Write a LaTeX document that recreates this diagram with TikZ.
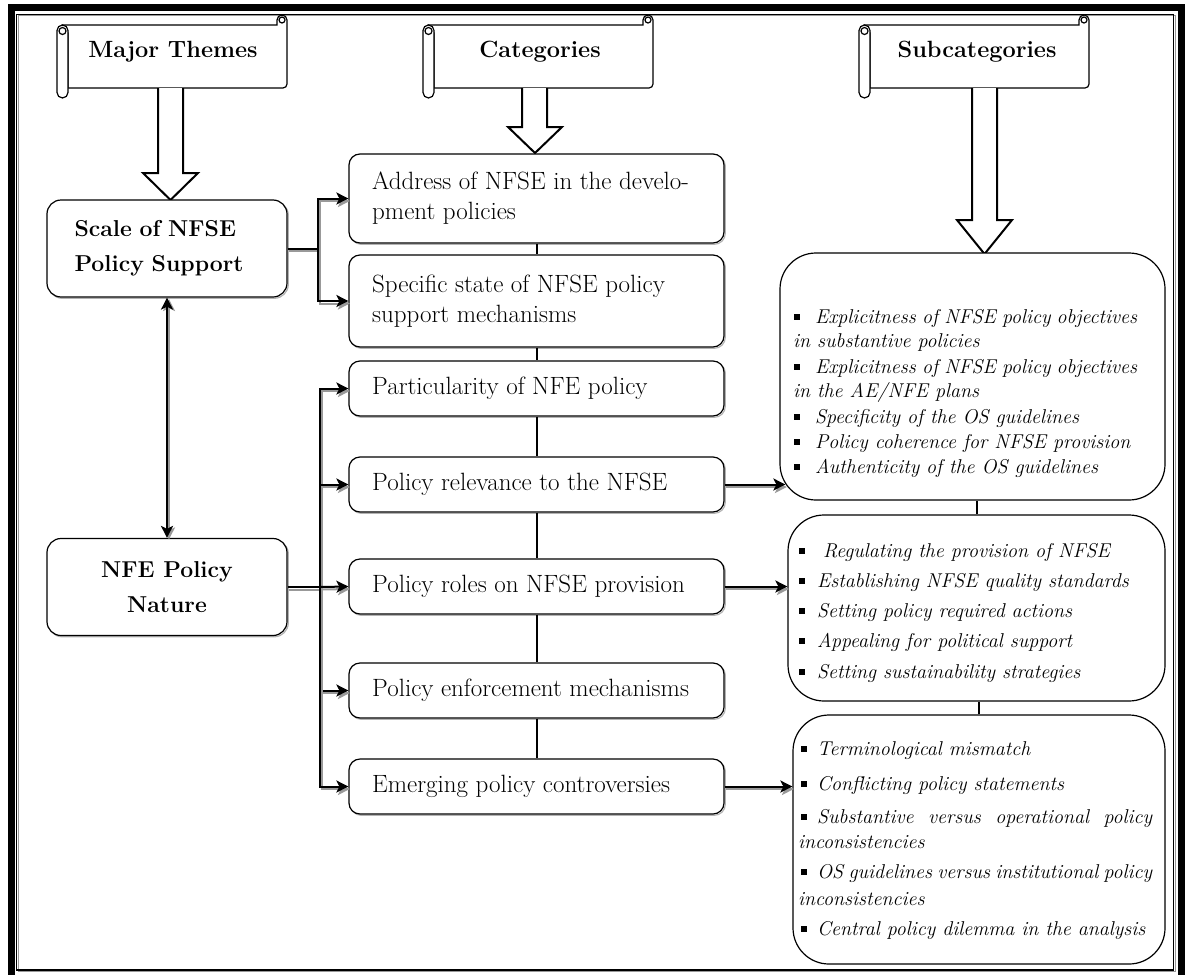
\documentclass[tikz,border=0pt]{standalone}
\usepackage{fontspec}
\usetikzlibrary{arrows.meta,calc}

% small square bullet used in the subcategory lists
\newcommand\sqbul{\rule[3pt]{6pt}{6pt}}

% scroll-shaped heading banner between x = #1 and x = #2
\newcommand\drawscroll[2]{%
  \draw[scrollline,fill=white] (#1+11,33) -- (#1+11,88) -- (#2-4,88)
     arc[start angle=90,end angle=0,radius=4] -- (#2,20)
     arc[start angle=0,end angle=-180,radius=5] -- (#2-10,25) -- (#1+5.5,25) -- cycle;
  \draw[scrollline,fill=white,rounded corners=5.5pt] (#1,25) rectangle (#1+11,98);
  \draw[scrollline] (#1+5.5,31) circle[radius=3.5];
  \draw[scrollline] (#2-5,20) circle[radius=3];
}

\tikzset{
  scrollline/.style={line width=1.2pt},
  blockarrow/.style={draw, line width=2pt, fill=white, line join=miter},
  titletxt/.style={anchor=base, inner sep=0pt, font=\bfseries\fontsize{23.5}{35}\selectfont},
  themebox/.style={draw, line width=1.2pt, rounded corners=14pt, fill=white, inner sep=0pt,
    minimum width=240pt, minimum height=97pt,
    font=\bfseries\fontsize{23}{35}\selectfont,
    preaction={draw=black!30, line width=1.2pt, transform canvas={shift={(1.3pt,-1.3pt)}}}},
  catbox/.style={draw, line width=1.2pt, rounded corners=11pt, fill=white, inner sep=0pt,
    minimum width=375pt,
    preaction={draw=black!30, line width=1.2pt, transform canvas={shift={(1.3pt,-1.3pt)}}}},
  cattxt/.style={anchor=west, align=left, inner sep=0pt, font=\fontsize{25}{30}\selectfont},
  subbox/.style={draw, line width=1.2pt, rounded corners=36pt, fill=white, inner sep=0pt},
  subtxt/.style={anchor=base west, inner sep=0pt, font=\itshape\fontsize{20}{24}\selectfont},
  vline/.style={line width=2pt},
  shline/.style={line width=2pt,
    preaction={draw=black!40, line width=2pt, transform canvas={shift={(1.5pt,-2.5pt)}}}},
  sharrow/.style={line width=2pt, -{Stealth[length=12pt,width=12pt,inset=3pt]},
    preaction={draw=black!40, line width=2pt, -{Stealth[length=12pt,width=12pt,inset=3pt]},
      transform canvas={shift={(1.5pt,-2.5pt)}}}},
  shdouble/.style={line width=2pt, {Stealth[length=12pt,width=12pt,inset=3pt]}-{Stealth[length=12pt,width=12pt,inset=3pt]},
    preaction={draw=black!40, line width=2pt, {Stealth[length=12pt,width=12pt,inset=3pt]}-{Stealth[length=12pt,width=12pt,inset=3pt]},
      transform canvas={shift={(2pt,-1.5pt)}}}},
}

\begin{document}
\begin{tikzpicture}[x=1pt,y=-1pt]
  \useasboundingbox (0,0) rectangle (1190,974);
  \clip (0,0) rectangle (1190,974);

  % page frame: heavy outer rule, thin inner rule with a faint shadow
  \draw[line width=7pt] (11.5,7.5) rectangle (1181,1000);
  \draw[black!40, line width=1pt] (18,16) rectangle (1175,971.5);
  \draw[line width=1.3pt] (16.5,14.5) rectangle (1173.5,970);

  % heading banners
  \drawscroll{57}{287}
  \drawscroll{423}{653}
  \drawscroll{859}{1089}
  \node[titletxt] (t1) at (173,57) {Major Themes};
  \node[titletxt] (t2) at (540,57) {Categories};
  \node[titletxt] (t3) at (977,57) {Subcategories};

  % hollow block arrows below the banners
  \draw[blockarrow] (158,88) -- (158,173) -- (143,173) -- (170.5,200) -- (198,173) -- (183,173) -- (183,88);
  \draw[blockarrow] (522,88) -- (522,127) -- (508,127) -- (535,153) -- (562,127) -- (547,127) -- (547,88);
  \draw[blockarrow] (972,88) -- (972,220) -- (957,220) -- (984.5,254) -- (1012,220) -- (997,220) -- (997,88);

  % major themes
  \node[themebox, align=left, text width=185pt] (scale) at (167,248.5) {Scale of NFSE\\Policy Support};
  \node[themebox, align=center] (nfe) at (167,587) {NFE Policy\\Nature};

  % categories
  \node[catbox, minimum height=89pt] (c1) at (536.5,198.5) {};
  \node[catbox, minimum height=92pt] (c2) at (536.5,301) {};
  \node[catbox, minimum height=55pt] (c3) at (536.5,388.5) {};
  \node[catbox, minimum height=55pt] (c4) at (536.5,484.5) {};
  \node[catbox, minimum height=55pt] (c5) at (536.5,586.5) {};
  \node[catbox, minimum height=55pt] (c6) at (536.5,690.5) {};
  \node[catbox, minimum height=55pt] (c7) at (536.5,786.5) {};

  \node[cattxt] (c1t) at (372,198.5) {Address of NFSE in the develo-\\pment policies};
  \node[cattxt] (c2t) at (372,301) {Specific state of NFSE policy\\support mechanisms};
  \node[cattxt] (c3t) at (372,388.5) {Particularity of NFE policy};
  \node[cattxt] (c4t) at (372,484.5) {Policy relevance to the NFSE};
  \node[cattxt] (c5t) at (372,586.5) {Policy roles on NFSE provision};
  \node[cattxt] (c6t) at (372,690.5) {Policy enforcement mechanisms};
  \node[cattxt] (c7t) at (372,786.5) {Emerging policy controversies};

  % subcategories
  \node[subbox, minimum width=385pt, minimum height=247pt] (s1) at (972.5,376.5) {};
  \node[subbox, minimum width=377pt, minimum height=186pt] (s2) at (976.5,608) {};
  \node[subbox, minimum width=372pt, minimum height=249pt] (s3) at (979,839.5) {};

  \node[subtxt] (s1a) at (793,323) {\makebox[22pt][l]{\hspace{1pt}\sqbul}\makebox[322pt][s]{Explicitness of NFSE policy objectives}};
  \node[subtxt] (s1b) at (793,347) {in substantive policies};
  \node[subtxt] (s1c) at (793,373) {\makebox[22pt][l]{\hspace{1pt}\sqbul}\makebox[322pt][s]{Explicitness of NFSE policy objectives}};
  \node[subtxt] (s1d) at (793,397) {in the AE/NFE plans};
  \node[subtxt] (s1e) at (793,423) {\makebox[22pt][l]{\hspace{1pt}\sqbul}Specificity of the OS guidelines};
  \node[subtxt] (s1f) at (793,448) {\makebox[22pt][l]{\hspace{1pt}\sqbul}Policy coherence for NFSE provision};
  \node[subtxt] (s1g) at (793,473) {\makebox[22pt][l]{\hspace{1pt}\sqbul}Authenticity of the OS guidelines};

  \node[subtxt] (s2a) at (798,557) {\makebox[25pt][l]{\hspace{1pt}\sqbul}Regulating the provision of NFSE};
  \node[subtxt] (s2b) at (798,587) {\makebox[19pt][l]{\hspace{1pt}\sqbul}Establishing NFSE quality standards};
  \node[subtxt] (s2c) at (798,617) {\makebox[19pt][l]{\hspace{1pt}\sqbul}Setting policy required actions};
  \node[subtxt] (s2d) at (798,647) {\makebox[19pt][l]{\hspace{1pt}\sqbul}Appealing for political support};
  \node[subtxt] (s2e) at (798,678) {\makebox[19pt][l]{\hspace{1pt}\sqbul}Setting sustainability strategies};

  \node[subtxt] (s3a) at (798,755) {\makebox[19pt][l]{\hspace{3pt}\sqbul}Terminological mismatch};
  \node[subtxt] (s3b) at (798,790) {\makebox[19pt][l]{\hspace{3pt}\sqbul}Conflicting policy statements};
  \node[subtxt] (s3c) at (798,823) {\makebox[19pt][l]{\hspace{3pt}\sqbul}\makebox[335pt][s]{Substantive versus operational policy}};
  \node[subtxt] (s3d) at (798,848) {inconsistencies};
  \node[subtxt] (s3e) at (798,878) {\makebox[19pt][l]{\hspace{3pt}\sqbul}\makebox[335pt][s]{OS guidelines versus institutional policy}};
  \node[subtxt] (s3f) at (798,905) {inconsistencies};
  \node[subtxt] (s3g) at (798,935) {\makebox[19pt][l]{\hspace{3pt}\sqbul}Central policy dilemma in the analysis};

  % links between the two major themes
  \draw[shdouble] (scale.south) -- (nfe.north);

  % scale of support -> its categories
  \coordinate (j1) at (318,248.5);
  \draw[shline] (scale.east) -- (j1);
  \draw[sharrow] (j1) |- (c1.west);
  \draw[sharrow] (j1) |- (c2.west);

  % policy nature -> its categories
  \coordinate (j2) at (320,587);
  \draw[shline] (nfe.east) -- (j2);
  \draw[sharrow] (j2) |- (c3.west);
  \draw[sharrow] (j2) |- (c4.west);
  \draw[sharrow] (j2) -- (c5.west);
  \draw[sharrow] (j2) |- (c6.west);
  \draw[sharrow] (j2) |- (c7.west);

  % chain of categories
  \draw[vline] (c1.south) -- (c2.north);
  \draw[vline] (c2.south) -- (c3.north);
  \draw[vline] (c3.south) -- (c4.north);
  \draw[vline] (c4.south) -- (c5.north);
  \draw[vline] (c5.south) -- (c6.north);
  \draw[vline] (c6.south) -- (c7.north);

  % categories -> subcategory lists (the first one meets the rounded corner)
  \draw[sharrow] (c4.east) -- ($(c4.east -| s1.west)+(6,0)$);
  \draw[sharrow] (c5.east) -- (c5.east -| s2.west);
  \draw[sharrow] (c7.east) -- (c7.east -| s3.west);

  % chain of subcategory lists
  \draw[vline] (s2.north) -- (s2.north |- s1.south);
  \draw[vline] (s3.north) -- (s3.north |- s2.south);
\end{tikzpicture}
\end{document}
